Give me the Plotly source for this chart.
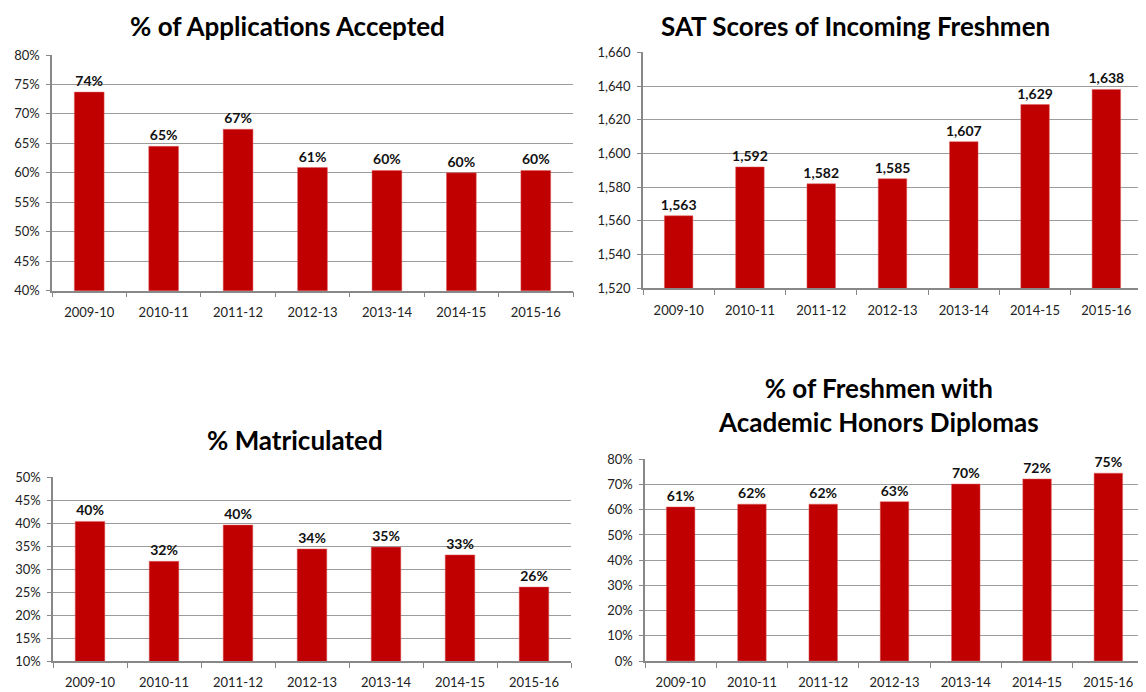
import plotly.graph_objects as go

years = ["2009-10", "2010-11", "2011-12", "2012-13", "2013-14", "2014-15", "2015-16"]
accepted = [0.737, 0.645, 0.674, 0.609, 0.604, 0.600, 0.604]
sat = [1563, 1592, 1582, 1585, 1607, 1629, 1638]
matric = [0.404, 0.317, 0.396, 0.344, 0.348, 0.331, 0.261]
honors = [0.611, 0.622, 0.622, 0.632, 0.702, 0.722, 0.745]

titles = ["% of Applications Accepted", "SAT Scores of Incoming Freshmen",
          "% Matriculated", "% of Freshmen with<br>Academic Honors Diplomas"]

OFF = 8  # page body margin
W, H = 1146 - OFF, 692 - OFF
RED = "#C00000"
FONT = "Lato"
GRID = "#9c9c9c"

def px_x(a, b):
    return [(a - OFF) / W, (b - OFF) / W]

def px_y(top, bottom):
    return [1 - (bottom - OFF) / H, 1 - (top - OFF) / H]

panels = [
    dict(data=accepted, xd=px_x(52, 573), yd=px_y(55, 290.7), rng=[0.40, 0.80], dt=0.05,
         fmt=".0%", tfmt="%{y:.0%}"),
    dict(data=sat, xd=px_x(643, 1142), yd=px_y(52.3, 288.3), rng=[1520, 1660], dt=20,
         fmt=",", tfmt="%{y:,}"),
    dict(data=matric, xd=px_x(53, 571), yd=px_y(477.3, 661), rng=[0.10, 0.50], dt=0.05,
         fmt=".0%", tfmt="%{y:.0%}"),
    dict(data=honors, xd=px_x(645, 1144), yd=px_y(459.3, 661), rng=[0, 0.80], dt=0.10,
         fmt=".0%", tfmt="%{y:.0%}"),
]

fig = go.Figure()
layout = {}
for i, p in enumerate(panels):
    n = "" if i == 0 else str(i + 1)
    fig.add_trace(go.Bar(
        x=years, y=p["data"], xaxis="x" + n, yaxis="y" + n,
        marker=dict(color=RED, line=dict(color="#E06060", width=0.5)),
        width=0.4, texttemplate=p["tfmt"], textposition="outside",
        textfont=dict(family=FONT, size=14, color="#111111", weight="bold"),
        constraintext="none", cliponaxis=False, showlegend=False,
    ))
    layout["xaxis" + n] = dict(
        domain=p["xd"], anchor="y" + n, type="category", showline=True,
        linecolor="#888888", linewidth=1.5, ticks="outside", tickson="boundaries",
        ticklen=5, tickcolor="#888888", showgrid=False, automargin=False,
        ticklabelstandoff=9,
        tickfont=dict(family=FONT, size=13, color="#222222"),
    )
    layout["yaxis" + n] = dict(
        domain=p["yd"], anchor="x" + n, range=p["rng"], dtick=p["dt"],
        tick0=p["rng"][0], tickformat=p["fmt"], showline=True, automargin=False,
        linecolor="#888888", linewidth=1.5, ticks="outside", ticklen=4,
        ticklabelstandoff=4,
        tickcolor="#888888", showgrid=True, gridcolor=GRID, gridwidth=1,
        zeroline=False, tickfont=dict(family=FONT, size=13, color="#222222"),
    )

fig.update_layout(**layout)

# (x centre, y, anchor) in reference pixels
title_pos = [(287, OFF, "top"), (855, OFF, "top"), (295, 440, "middle"), (878, 405, "middle")]
for t, (x, y, ya) in zip(titles, title_pos):
    fig.add_annotation(text="<b>" + t + "</b>", x=(x - OFF) / W, y=1 - (y - OFF) / H,
                       xref="paper", yref="paper",
                       showarrow=False, xanchor="center", yanchor=ya,
                       font=dict(family=FONT, size=26, color="#000000"))

fig.update_layout(width=W, height=H, margin=dict(l=0, r=0, t=0, b=0),
                  plot_bgcolor="white", paper_bgcolor="white", bargap=0.6)

fig.write_html("out.html")
